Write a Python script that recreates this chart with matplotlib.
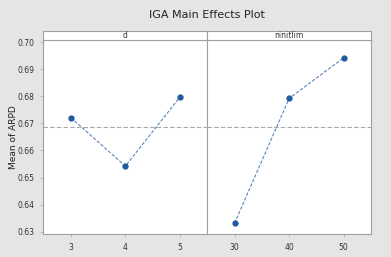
import matplotlib
matplotlib.use("Agg")
import matplotlib.pyplot as plt

d_levels = [3, 4, 5]
d_means = [0.6721, 0.6542, 0.6797]
nin_levels = [30, 40, 50]
nin_means = [0.6331, 0.6792, 0.6942]
grand_mean = 0.6687
yticks = [0.63, 0.64, 0.65, 0.66, 0.67, 0.68, 0.69, 0.70]
ytick_labels = ["0.63", "0.64", "0.65", "0.66", "0.67", "0.68", "0.69", "0.70"]
panel_titles = ["d", "ninitlim"]

W, H = 391, 257
fig = plt.figure(figsize=(W / 100, H / 100), dpi=100)
fig.patch.set_facecolor("#e5e5e5")

left, right = 43, 371
mid = 206.7
top, bottom = 40, 234.3
strip_top = 30.7

def ax_rect(x0, x1, y0, y1):
    return [x0 / W, 1 - y1 / H, (x1 - x0) / W, (y1 - y0) / H]

ax1 = fig.add_axes(ax_rect(left, mid, top, bottom))
ax2 = fig.add_axes(ax_rect(mid, right, top, bottom), sharey=ax1)

edge = "#a0a0a0"
line_col = "#5b86b8"
mark_col = "#1f5aa0"

for ax, xs, ys, xl, title in [
    (ax1, d_levels, d_means, (2.49, 5.49), panel_titles[0]),
    (ax2, nin_levels, nin_means, (24.9, 55.0), panel_titles[1]),
]:
    ax.set_facecolor("white")
    ax.axhline(grand_mean, color="#a8a8a8", lw=0.8, ls=(0, (4, 2)), zorder=1)
    ax.plot(xs, ys, color=line_col, lw=0.8, ls=(0, (3, 1.5)), zorder=2)
    ax.plot(xs, ys, ls="none", marker="o", ms=3.5, color=mark_col, zorder=3)
    ax.set_xlim(*xl)
    ax.set_xticks(xs)
    ax.set_xticklabels([str(v) for v in xs])
    for s in ax.spines.values():
        s.set_color(edge)
        s.set_linewidth(0.8)
    ax.tick_params(axis="both", colors="#b0b0b0", labelcolor="#333333",
                   labelsize=5.5, length=2, width=0.6, pad=4)
    # strip
    sax = fig.add_axes(ax_rect(ax.get_position().x0 * W, ax.get_position().x1 * W,
                               strip_top, top))
    sax.set_facecolor("white")
    sax.set_xticks([])
    sax.set_yticks([])
    for s in sax.spines.values():
        s.set_color(edge)
        s.set_linewidth(0.8)
    sax.text(0.5, 0.5, title, ha="center", va="center", fontsize=5.5, color="#333333")

ax1.set_ylim(0.62904, 0.70074)
ax1.set_yticks(yticks)
ax1.set_yticklabels(ytick_labels)
ax2.tick_params(axis="y", left=False, labelleft=False)
ax1.set_ylabel("Mean of ARPD", fontsize=6.5, color="#222222")
ax1.yaxis.set_label_coords((18 - left) / (mid - left), 0.5)

fig.text(207 / W, 1 - 15 / H, "IGA Main Effects Plot", ha="center", va="center",
         fontsize=8, color="#222222")

fig.savefig("out.png", dpi=100, facecolor=fig.get_facecolor())
